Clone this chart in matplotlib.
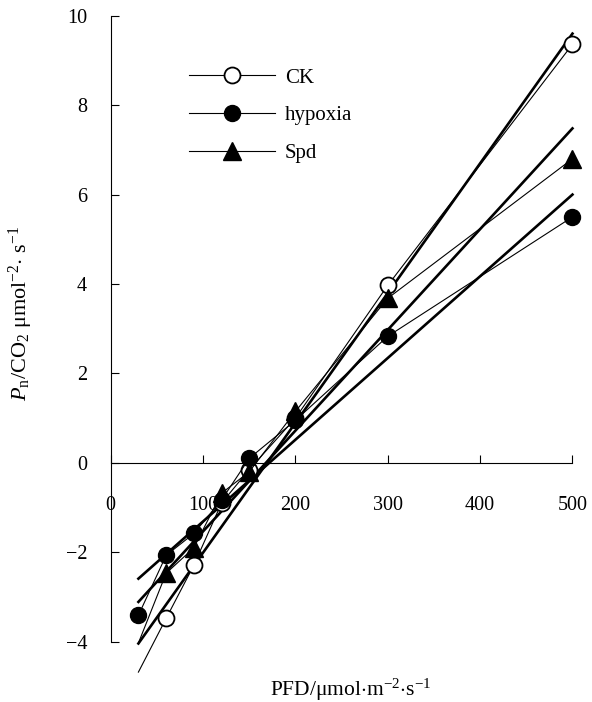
import matplotlib
matplotlib.use("Agg")
import matplotlib.pyplot as plt

plt.rcParams['font.family'] = ['Liberation Serif', 'DejaVu Serif']
plt.rcParams['mathtext.fontset'] = 'custom'
plt.rcParams['mathtext.rm'] = 'Liberation Serif'
plt.rcParams['mathtext.it'] = 'Liberation Serif:italic'

# PFD levels
pfd = [30, 60, 90, 120, 150, 200, 300, 500]
ck = [-4.68, -3.48, -2.29, -0.9, -0.15, 1.0, 3.97, 9.36]
hypoxia = [-3.41, -2.07, -1.58, -0.83, 0.1, 0.95, 2.83, 5.5]
spd = [-4.03, -2.47, -1.9, -0.68, -0.2, 1.15, 3.68, 6.8]

# linear fits (end values at fit_x)
fit_x = [30, 500]
ck_fit = [-4.04, 9.6]
hypoxia_fit = [-2.59, 6.0]
spd_fit = [-3.11, 7.48]

fig = plt.figure(figsize=(5.92, 7.02), dpi=100)
ax = fig.add_axes([0.187, 0.0859, 0.780, 0.8917])

thin = 0.8
ax.plot(pfd, ck, color='black', lw=thin, marker='o', ms=11.5, mfc='white',
        mec='black', mew=1.3, markevery=range(1, len(pfd)), label='CK',
        clip_on=False, zorder=3)
ax.plot(pfd, hypoxia, color='black', lw=thin, marker='o', ms=11.5, mfc='black',
        mec='black', label='hypoxia', clip_on=False, zorder=4)
ax.plot(pfd, spd, color='black', lw=thin, marker='^', ms=13, mfc='black',
        mec='black', markevery=range(1, len(pfd)), label='Spd',
        clip_on=False, zorder=4)

for f in (ck_fit, hypoxia_fit, spd_fit):
    ax.plot(fit_x, f, color='black', lw=1.9, clip_on=False, zorder=2.8)

ax.set_xlim(0, 500)
ax.set_ylim(-4, 10)
ax.set_xticks([0, 100, 200, 300, 400, 500])
ax.set_yticks([-4, -2, 0, 2, 4, 6, 8, 10])

ax.spines['top'].set_visible(False)
ax.spines['right'].set_visible(False)
ax.spines['bottom'].set_position(('data', 0))
for s in ('left', 'bottom'):
    ax.spines[s].set_linewidth(0.8)

ax.tick_params(axis='x', direction='in', length=6, width=0.8, pad=24, labelsize=14.5)
ax.tick_params(axis='y', direction='in', length=6, width=0.8, pad=17, labelsize=14.5)

ax.set_xlabel(r'PFD/μmol$\cdot$m$^{-2}$$\cdot$s$^{-1}$', fontsize=15.5, va='center')
ax.xaxis.set_label_coords(0.52, -0.077)
ax.set_ylabel(r'$P_\mathrm{n}$/CO$_2$ μmol$^{-2}$$\cdot$ s$^{-1}$', fontsize=16)
ax.yaxis.set_label_coords(-0.164, 0.525)

ax.legend(loc='upper left', bbox_to_anchor=(0.17, 0.9165), frameon=False,
          fontsize=15, handlelength=4.1, handletextpad=0.5,
          labelspacing=0.87, borderpad=0, borderaxespad=0)

plt.savefig('out.png', dpi=100)
